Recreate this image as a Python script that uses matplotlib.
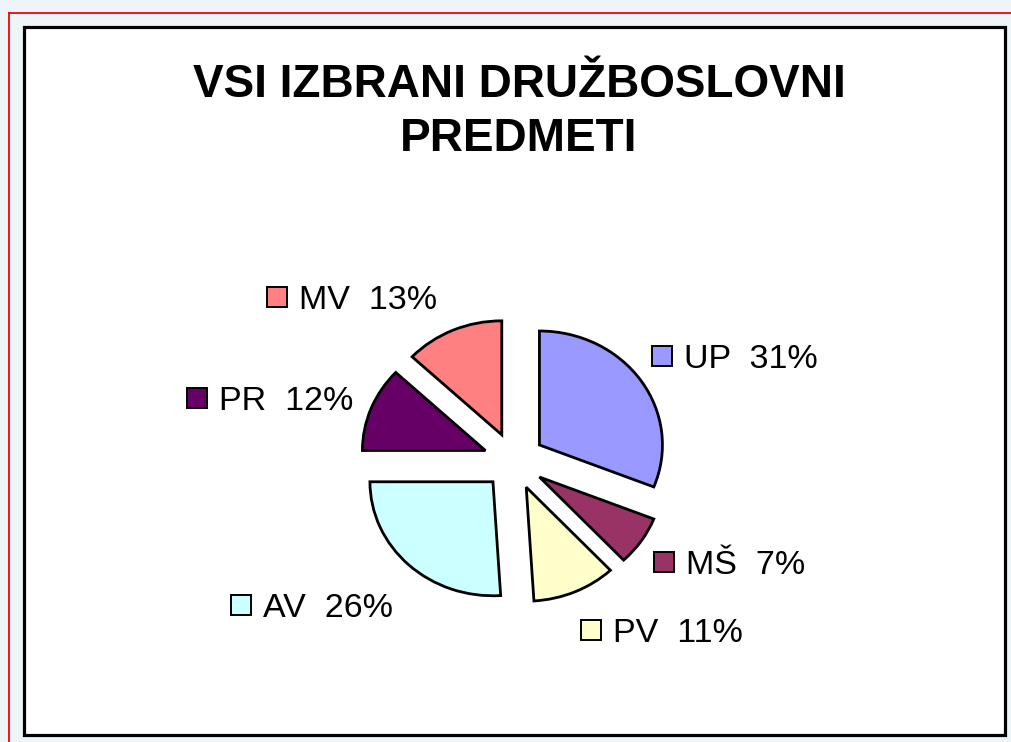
import matplotlib
matplotlib.use("Agg")
import matplotlib.pyplot as plt
from matplotlib.patches import Rectangle
from matplotlib.lines import Line2D

# ---- data ----
categories = ["UP", "MŠ", "PV", "AV", "PR", "MV"]
values = [31, 7, 11, 26, 12, 13]
colors = ["#9999FF", "#993366", "#FFFFCC", "#CCFFFF", "#660066", "#FF8080"]
title_lines = ["VSI IZBRANI DRUŽBOSLOVNI", "PREDMETI"]

# label layout (marker left x, marker centre y) in image pixels (y from top)
label_layout = {
    "UP": (652, 356),
    "MŠ": (654, 562),
    "PV": (581, 630),
    "AV": (231, 605),
    "PR": (187, 398),
    "MV": (267, 297),
}

W, H = 1011, 742
DPI = 100
plt.rcParams["font.family"] = ["Liberation Sans", "DejaVu Sans"]

fig = plt.figure(figsize=(W / DPI, H / DPI), dpi=DPI)
fig.patch.set_facecolor("#edf5f8")


def fx(x):
    return x / W


def fy(y):
    return 1 - y / H


# red outer frame
fig.add_artist(Line2D([fx(9), fx(W + 5)], [fy(13), fy(13)], color="#ff0000", lw=1.3,
                      transform=fig.transFigure, zorder=-2))
fig.add_artist(Line2D([fx(9), fx(9)], [fy(13), fy(H + 5)], color="#ff0000", lw=1.3,
                      transform=fig.transFigure, zorder=-2))

# chart area (white, black border)
fig.add_artist(Rectangle((fx(24), fy(735)), fx(1005) - fx(24), fy(27) - fy(735),
                         transform=fig.transFigure, facecolor="white",
                         edgecolor="black", lw=2.3, zorder=-1))

# title
fig.text(fx(519), fy(97), title_lines[0], ha="center", va="baseline",
         fontsize=33, fontweight="bold", color="black")
fig.text(fx(519), fy(151), title_lines[1], ha="center", va="baseline",
         fontsize=33, fontweight="bold", color="black")

# pie axes: centre (514, 461), rx=123 px, ry=114 px, limits +-2
cx, cy = 514, 461
rx, ry = 123, 114
ax = fig.add_axes([fx(cx - 2 * rx), fy(cy + 2 * ry), 4 * rx / W, 4 * ry / H])
ax.pie(values, colors=colors, startangle=90, counterclock=False,
       explode=[0.25] * len(values),
       wedgeprops=dict(edgecolor="black", linewidth=2.0))
ax.set_aspect("auto")
ax.set_xlim(-2, 2)
ax.set_ylim(-2, 2)
ax.axis("off")
ax.patch.set_alpha(0)

# data labels with legend keys
for name, v, c in zip(categories, values, colors):
    mx, my = label_layout[name]
    fig.add_artist(Rectangle((fx(mx), fy(my + 10)), 20 / W, 20 / H,
                             transform=fig.transFigure, facecolor=c,
                             edgecolor="black", lw=1.4, zorder=3))
    fig.text(fx(mx + 32), fy(my + 12), f"{name}  {v}%", ha="left",
             va="baseline", fontsize=24.5, color="black")

fig.savefig("out.png", dpi=DPI, facecolor=fig.get_facecolor())
